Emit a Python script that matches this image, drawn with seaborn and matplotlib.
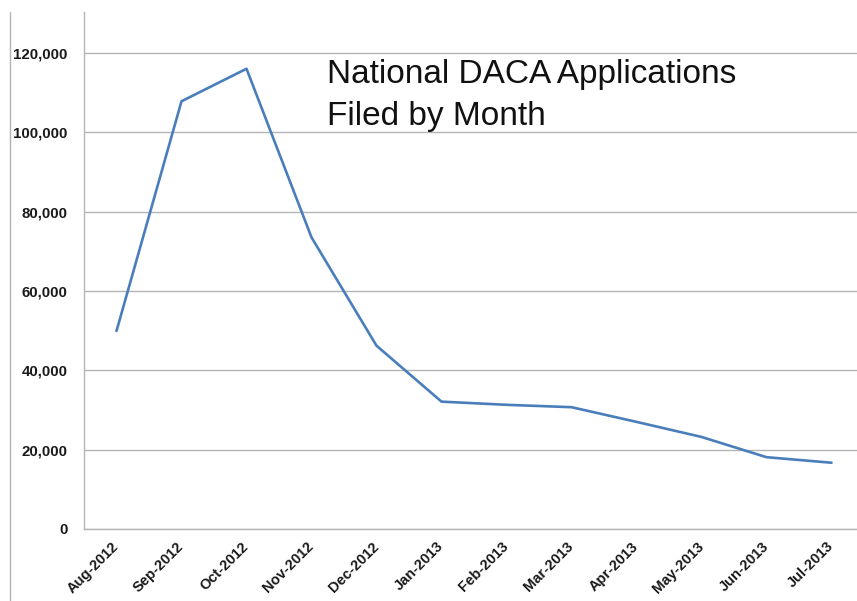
import numpy as np
import pandas as pd
import matplotlib
matplotlib.use("Agg")
import matplotlib.pyplot as plt
from matplotlib.lines import Line2D
from matplotlib.ticker import FuncFormatter, FixedLocator
import seaborn as sns

# Monthly DACA application counts
months = ["Aug-2012", "Sep-2012", "Oct-2012", "Nov-2012", "Dec-2012", "Jan-2013",
          "Feb-2013", "Mar-2013", "Apr-2013", "May-2013", "Jun-2013", "Jul-2013"]
applications = [49900, 107800, 116000, 73500, 46200, 32100,
                31300, 30700, 27000, 23200, 18100, 16700]
y_ticks = [0, 20000, 40000, 60000, 80000, 100000, 120000]

sns.set_style("white")
plt.rcParams["font.family"] = ["Liberation Sans", "DejaVu Sans"]

df = pd.DataFrame({"pos": np.arange(len(months)), "month": months,
                   "applications": applications})

fig = plt.figure(figsize=(8.57, 6.01), dpi=100)
ax = fig.add_axes([84 / 857, 72 / 601, 780 / 857, 517 / 601])

sns.lineplot(data=df, x="pos", y="applications", ax=ax,
             color="#4a7ebb", linewidth=1.9, legend=False)

ax.set_xlim(-0.5, len(months) - 0.5)
ax.set_ylim(0, 130300)

grid_color = "#b4b4b4"
ax.set_yticks(y_ticks)
ax.yaxis.set_major_formatter(FuncFormatter(lambda v, _: f"{int(v):,}"))
ax.grid(axis="y", color=grid_color, linewidth=1.0)
ax.set_axisbelow(True)

ax.set_xticks(df["pos"])
ax.set_xticklabels(months, rotation=45, ha="right", va="center",
                   rotation_mode="anchor", fontsize=10.5, fontweight="bold",
                   color="#1a1a1a")
ax.xaxis.set_minor_locator(FixedLocator(np.arange(-0.5, len(months) + 0.5, 1.0)))
ax.tick_params(axis="x", which="major", length=0, pad=11)
ax.tick_params(axis="x", which="minor", length=4, width=1.0, color=grid_color,
               direction="out")
ax.tick_params(axis="y", length=6, width=1.0, color=grid_color, direction="out",
               pad=6, labelsize=10.8, labelcolor="#1a1a1a")
for lbl in ax.get_yticklabels():
    lbl.set_fontweight("bold")

for side in ("top", "right"):
    ax.spines[side].set_visible(False)
for side in ("left", "bottom"):
    ax.spines[side].set_color(grid_color)
    ax.spines[side].set_linewidth(1.0)

ax.set_xlabel("")
ax.set_ylabel("")

# Chart title inside the plotting area
fig.text(327 / 857, 1 - 83 / 601, "National DACA Applications",
         fontsize=24, color="#111111", va="baseline", ha="left")
fig.text(327 / 857, 1 - 125 / 601, "Filed by Month",
         fontsize=24, color="#111111", va="baseline", ha="left")

# Left border of the chart frame
fig.add_artist(Line2D([10 / 857, 10 / 857], [0, 1 - 12 / 601],
                      transform=fig.transFigure, color="#b4b4b4", linewidth=1.0))

fig.savefig("out.png", dpi=100)
